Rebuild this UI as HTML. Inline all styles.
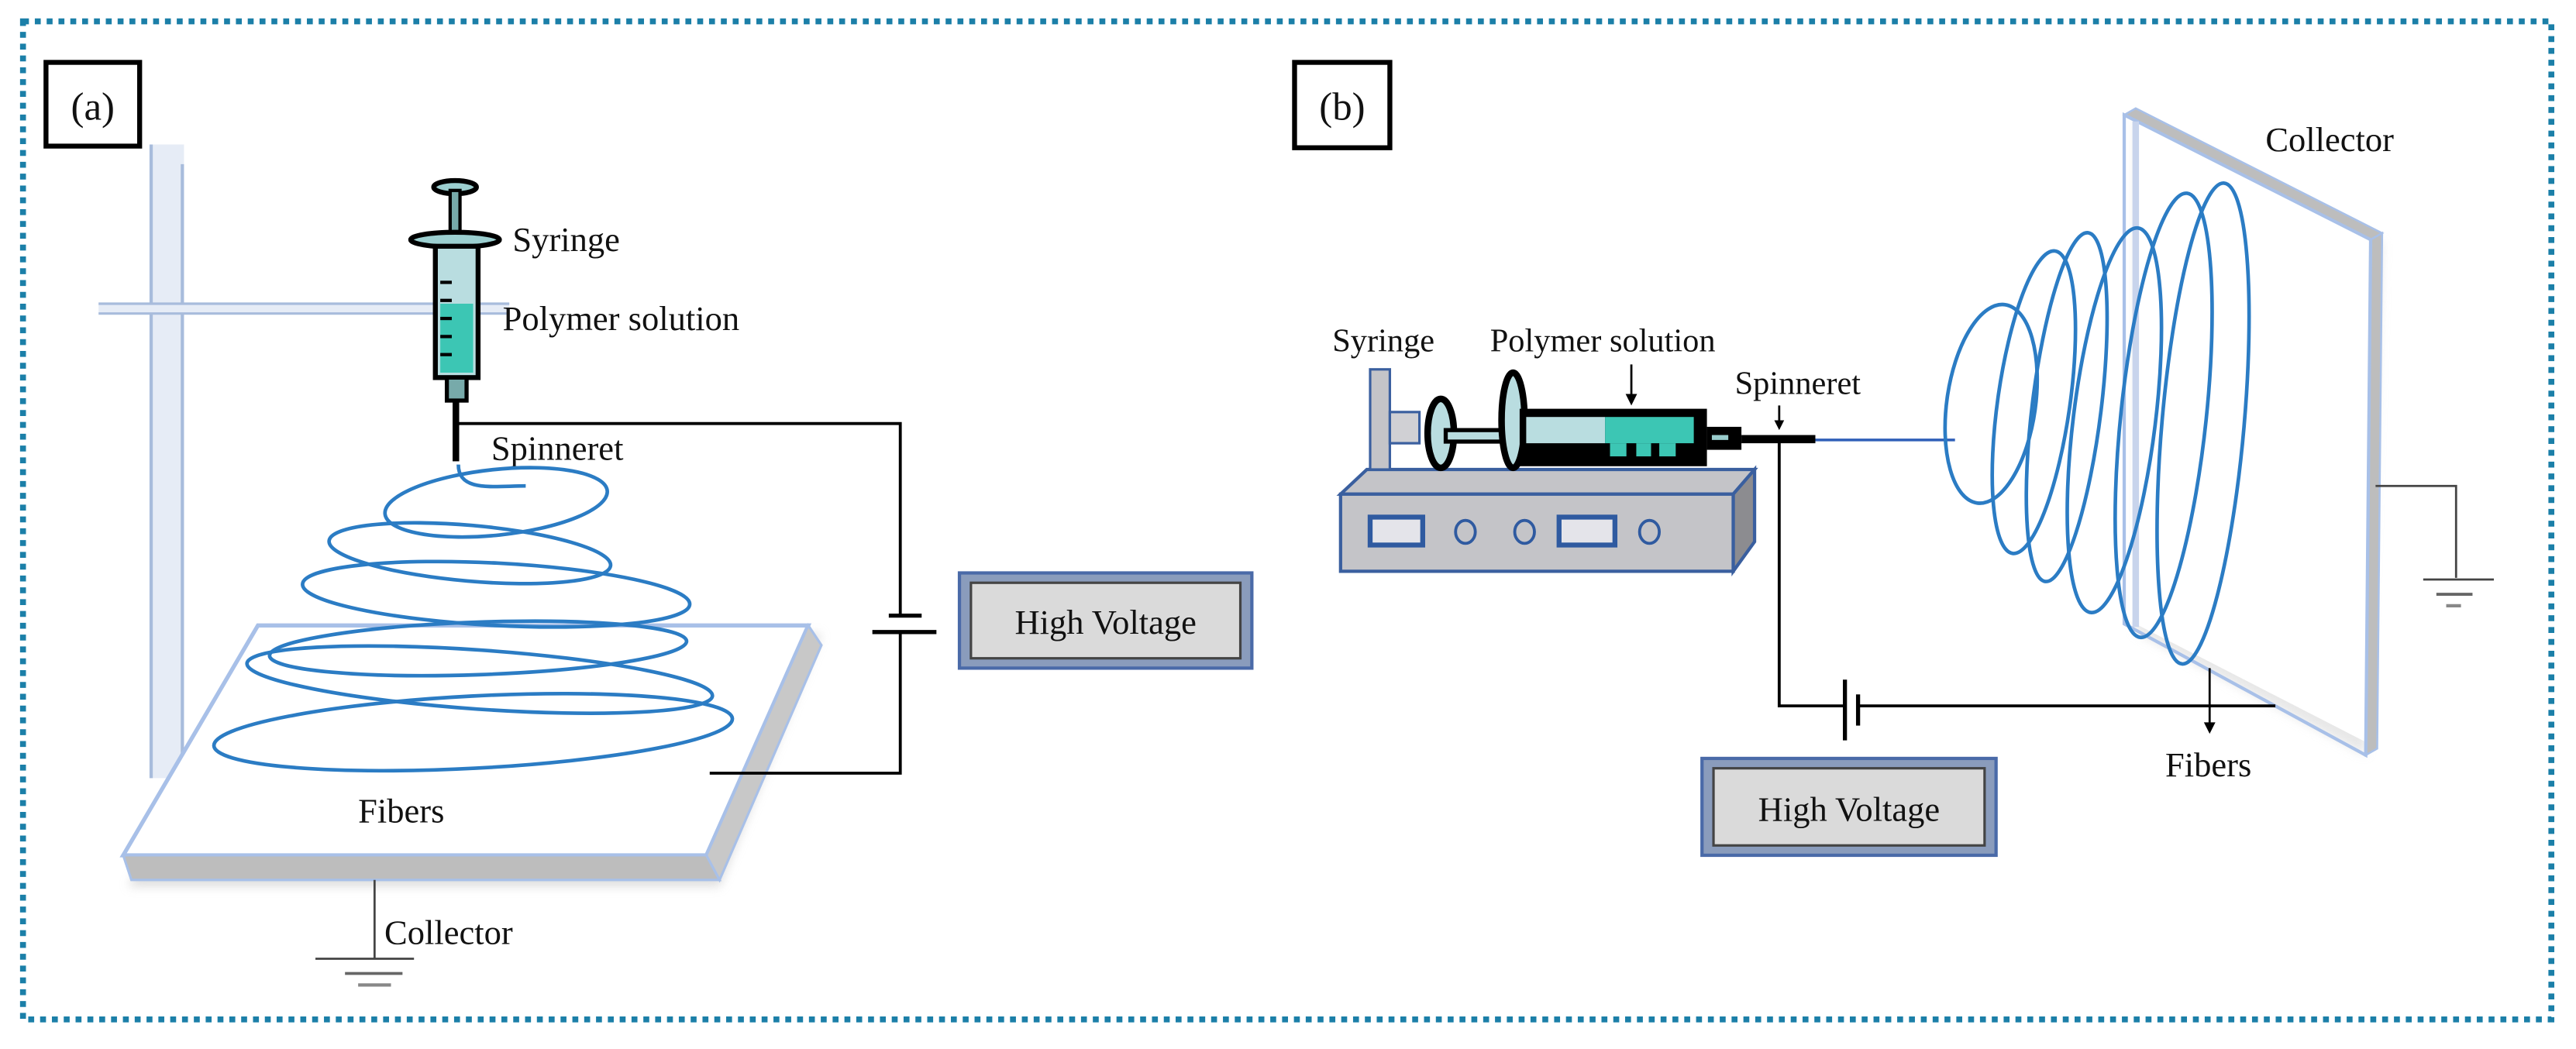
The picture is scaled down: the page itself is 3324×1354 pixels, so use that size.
<!DOCTYPE html>
<html><head><meta charset="utf-8"><style>
html,body{margin:0;padding:0;background:#fff;}
svg{display:block;}
text{font-family:"Liberation Serif",serif;fill:#111;}
</style></head><body>
<svg width="3324" height="1354" viewBox="0 0 1568 639" preserveAspectRatio="none" xmlns="http://www.w3.org/2000/svg">
<defs>
<filter id="blur" x="-20%" y="-20%" width="140%" height="140%"><feGaussianBlur stdDeviation="3"/></filter>
</defs>
<rect x="14" y="13" width="1539" height="608" fill="none" stroke="#1b7fa8" stroke-width="3.6" stroke-dasharray="3.6 3.6"/>

<!-- ===== (a) ===== -->
<rect x="28" y="38" width="57" height="51" fill="#fff" stroke="#000" stroke-width="3"/>
<text x="56.5" y="73" font-size="24" text-anchor="middle">(a)</text>

<rect x="91" y="88" width="21" height="386" fill="#e6ecf6"/>
<line x1="92" y1="88" x2="92" y2="474" stroke="#a8bcdc" stroke-width="2"/>
<line x1="111" y1="100" x2="111" y2="474" stroke="#a8bcdc" stroke-width="2"/>
<rect x="60" y="185" width="250" height="6" fill="#e6ecf6"/>
<line x1="60" y1="185" x2="310" y2="185" stroke="#a8bcdc" stroke-width="1.5"/>
<line x1="60" y1="191" x2="310" y2="191" stroke="#a8bcdc" stroke-width="1.5"/>

<polygon points="160,386 500,386 438,540 78,540" fill="#d0d0d0" filter="url(#blur)" opacity="0.7"/>
<polygon points="157,381 492,381 430,521 75,521" fill="#fff" stroke="#a8c0e8" stroke-width="2.5"/>
<polygon points="75,521 430,521 438,536 80,536" fill="#bdbdbd" stroke="#a8c0e8" stroke-width="1.5"/>
<polygon points="492,381 500,393 438,536 430,521" fill="#c8c8c8" stroke="#a8c0e8" stroke-width="1.5"/>

<ellipse cx="277" cy="114" rx="13" ry="4" fill="#9ccfd0" stroke="#000" stroke-width="3"/>
<rect x="274" y="116" width="6" height="30" fill="#7aa" stroke="#000" stroke-width="2"/>
<ellipse cx="277" cy="146" rx="27" ry="4.5" fill="#9ccfd0" stroke="#000" stroke-width="3"/>
<rect x="265" y="150" width="26" height="80" fill="#b9dde0" stroke="#000" stroke-width="3"/>
<rect x="268" y="185" width="20" height="42" fill="#3cc6b4"/>
<g stroke="#000" stroke-width="2">
<line x1="268" y1="172" x2="275" y2="172"/><line x1="268" y1="183" x2="275" y2="183"/>
<line x1="268" y1="194" x2="275" y2="194"/><line x1="268" y1="205" x2="275" y2="205"/><line x1="268" y1="216" x2="275" y2="216"/>
</g>
<rect x="272" y="230" width="12" height="14" fill="#7aa" stroke="#000" stroke-width="2.5"/>
<rect x="275.5" y="244" width="4" height="37" fill="#000"/>

<text x="312" y="153" font-size="21">Syringe</text>
<text x="306" y="201" font-size="21">Polymer solution</text>
<text x="299" y="280" font-size="21">Spinneret</text>

<polyline points="279,258 548,258 548,375" fill="none" stroke="#000" stroke-width="1.8"/>
<line x1="541" y1="375" x2="561" y2="375" stroke="#000" stroke-width="2.5"/>
<line x1="531" y1="385" x2="570" y2="385" stroke="#000" stroke-width="2.5"/>
<polyline points="548,385 548,471 432,471" fill="none" stroke="#000" stroke-width="1.8"/>

<rect x="584" y="349" width="178" height="58" fill="#8a9cbc" stroke="#4a6aa8" stroke-width="2"/>
<rect x="591" y="355" width="164" height="46" fill="#dadada" stroke="#444" stroke-width="1.5"/>
<text x="673" y="386" font-size="21" text-anchor="middle">High Voltage</text>

<g fill="none" stroke="#2b7cc4" stroke-width="2.2">
<path d="M279,283 C279,300 300,296 320,296"/>
<ellipse cx="302" cy="306" rx="68" ry="20" transform="rotate(-6 302 306)"/>
<ellipse cx="286" cy="337" rx="86" ry="17" transform="rotate(5 286 337)"/>
<ellipse cx="302" cy="362" rx="118" ry="19" transform="rotate(3 302 362)"/>
<ellipse cx="291" cy="395" rx="127" ry="16" transform="rotate(-2 291 395)"/>
<ellipse cx="292" cy="414" rx="142" ry="18" transform="rotate(4 292 414)"/>
<ellipse cx="288" cy="446" rx="158" ry="22" transform="rotate(-3 288 446)"/>
</g>
<text x="218" y="501" font-size="21">Fibers</text>

<line x1="228" y1="536" x2="228" y2="584" stroke="#444" stroke-width="1.3"/>
<line x1="192" y1="584" x2="252" y2="584" stroke="#444" stroke-width="1.3"/>
<line x1="210" y1="593" x2="245" y2="593" stroke="#666" stroke-width="1.8"/>
<line x1="218" y1="600" x2="238" y2="600" stroke="#888" stroke-width="2"/>
<text x="234" y="575" font-size="21">Collector</text>

<!-- ===== (b) ===== -->
<rect x="788" y="38" width="58" height="52" fill="#fff" stroke="#000" stroke-width="3"/>
<text x="817" y="73" font-size="24" text-anchor="middle">(b)</text>

<polygon points="1300,72 1450,148 1440,460 1300,385" fill="#d8d8d8" filter="url(#blur)" opacity="0.6"/>
<polygon points="1300,74 1443,146 1440,452 1296,378" fill="#fff"/>
<polygon points="1293,70 1300,66 1450,142 1443,146" fill="#bdbdbd" stroke="#a8c0e8" stroke-width="1.2"/>
<polygon points="1443,146 1450,142 1447,456 1440,460" fill="#bdbdbd" stroke="#a8c0e8" stroke-width="1.2"/>
<polygon points="1293,70 1443,146 1440,460 1293,380" fill="none" stroke="#a8c0e8" stroke-width="2"/>
<line x1="1300" y1="74" x2="1300" y2="382" stroke="#c8d4ec" stroke-width="4"/>

<line x1="1105" y1="268" x2="1190" y2="268" stroke="#2f5fb8" stroke-width="1.6"/>
<g fill="none" stroke="#2b7cc4" stroke-width="2.2">
<ellipse cx="1212" cy="246" rx="27" ry="61" transform="rotate(8 1212 246)"/>
<ellipse cx="1238" cy="245" rx="22" ry="93" transform="rotate(8 1238 245)"/>
<ellipse cx="1258" cy="248" rx="21" ry="107" transform="rotate(7 1258 248)"/>
<ellipse cx="1287" cy="256" rx="25" ry="118" transform="rotate(7 1287 256)"/>
<ellipse cx="1317" cy="253" rx="26" ry="136" transform="rotate(6 1317 253)"/>
<ellipse cx="1341" cy="258" rx="25" ry="147" transform="rotate(5 1341 258)"/>
</g>
<text x="1379" y="92" font-size="21">Collector</text>

<polyline points="1446,296 1495,296 1495,352" fill="none" stroke="#444" stroke-width="1.3"/>
<line x1="1475" y1="353" x2="1518" y2="353" stroke="#444" stroke-width="1.3"/>
<line x1="1483" y1="362" x2="1505" y2="362" stroke="#666" stroke-width="1.8"/>
<line x1="1489" y1="369" x2="1498" y2="369" stroke="#888" stroke-width="2"/>

<polygon points="816,301 832,286 1068,286 1055,301" fill="#c4c4c8" stroke="#3a5f9f" stroke-width="2"/>
<polygon points="1055,301 1068,286 1068,330 1055,348" fill="#8c8c90" stroke="#3a5f9f" stroke-width="2"/>
<rect x="816" y="301" width="239" height="47" fill="#c4c4c8" stroke="#3a5f9f" stroke-width="2"/>
<rect x="834" y="315" width="32" height="17" fill="#e4e4ea" stroke="#2f5aa0" stroke-width="3"/>
<rect x="949" y="315" width="34" height="17" fill="#e4e4ea" stroke="#2f5aa0" stroke-width="3"/>
<ellipse cx="892" cy="324" rx="6" ry="7" fill="none" stroke="#2f5aa0" stroke-width="1.8"/>
<ellipse cx="928" cy="324" rx="6" ry="7" fill="none" stroke="#2f5aa0" stroke-width="1.8"/>
<ellipse cx="1004" cy="324" rx="6" ry="7" fill="none" stroke="#2f5aa0" stroke-width="1.8"/>
<rect x="834" y="225" width="12" height="61" fill="#c4c4c8" stroke="#3a5f9f" stroke-width="1.5"/>
<rect x="846" y="251" width="18" height="19" fill="#d0d0d4" stroke="#3a5f9f" stroke-width="1.5"/>
<ellipse cx="877" cy="264" rx="8" ry="21" fill="#b9dde0" stroke="#000" stroke-width="4"/>
<rect x="880" y="262" width="38" height="7" fill="#b9dde0" stroke="#000" stroke-width="2.5"/>
<ellipse cx="921" cy="256" rx="7" ry="29" fill="#b9dde0" stroke="#000" stroke-width="4"/>
<rect x="925" y="249" width="114" height="35" fill="#000"/>
<rect x="929" y="254" width="48" height="16" fill="#b9dde0"/>
<rect x="977" y="254" width="54" height="16" fill="#3cc6b4"/>
<g fill="#3cc6b4"><rect x="980" y="270" width="10" height="8"/><rect x="996" y="270" width="9" height="8"/><rect x="1010" y="270" width="10" height="8"/></g>
<rect x="1039" y="260" width="21" height="14" fill="#000"/>
<rect x="1042" y="265" width="10" height="3" fill="#9cc"/>
<rect x="1060" y="265" width="45" height="5" fill="#000"/>

<text x="811" y="214" font-size="20">Syringe</text>
<text x="907" y="214" font-size="20">Polymer solution</text>
<text x="1056" y="240" font-size="20">Spinneret</text>
<line x1="993" y1="222" x2="993" y2="241" stroke="#000" stroke-width="1.3"/>
<polygon points="989.5,240 996.5,240 993,247" fill="#000"/>
<line x1="1083" y1="247" x2="1083" y2="257" stroke="#000" stroke-width="1.3"/>
<polygon points="1080,256 1086,256 1083,262" fill="#000"/>

<polyline points="1083,268 1083,430 1123,430" fill="none" stroke="#000" stroke-width="1.8"/>
<line x1="1123" y1="414" x2="1123" y2="451" stroke="#000" stroke-width="2.5"/>
<line x1="1131" y1="423" x2="1131" y2="442" stroke="#000" stroke-width="2.5"/>
<line x1="1131" y1="430" x2="1385" y2="430" stroke="#000" stroke-width="1.8"/>

<rect x="1036" y="462" width="179" height="59" fill="#8a9cbc" stroke="#4a6aa8" stroke-width="2"/>
<rect x="1043" y="468" width="165" height="47" fill="#dadada" stroke="#444" stroke-width="1.5"/>
<text x="1125.5" y="500" font-size="21" text-anchor="middle">High Voltage</text>

<line x1="1345" y1="407" x2="1345" y2="441" stroke="#000" stroke-width="1.3"/>
<polygon points="1341.5,440 1348.5,440 1345,447" fill="#000"/>
<text x="1318" y="473" font-size="21">Fibers</text>
</svg>
</body></html>
